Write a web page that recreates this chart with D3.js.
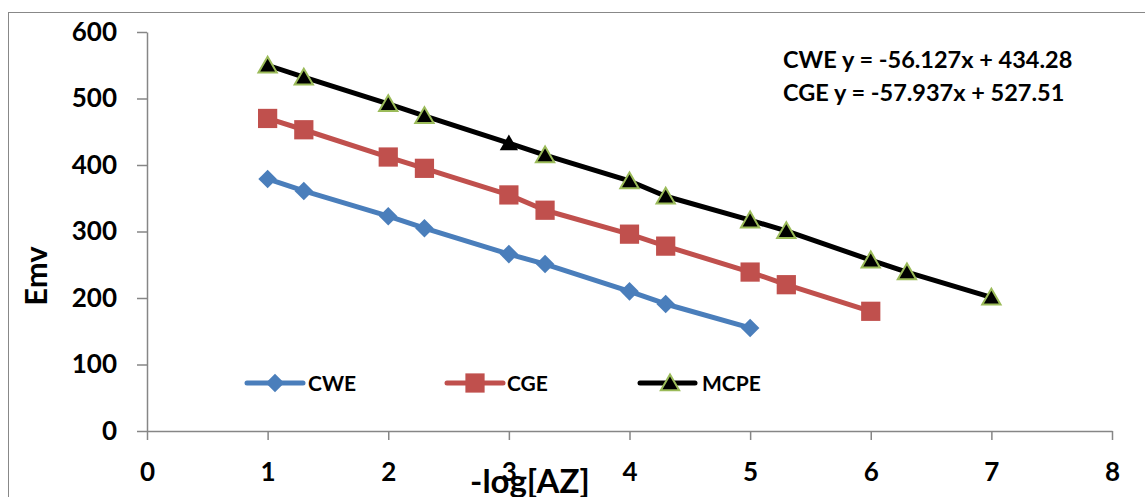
<!DOCTYPE html>
<html><head><meta charset="utf-8">
<script src="https://cdn.jsdelivr.net/npm/d3@7"></script>
<style>body{margin:0;background:#fff}svg{display:block}text{font-family:Lato,"Open Sans",sans-serif;font-weight:bold}</style>
</head><body><svg id="c" width="1145" height="497"></svg>
<script>
const xTicks=[0,1,2,3,4,5,6,7,8];
const yTicks=[0,100,200,300,400,500,600];
const cweX=[1,1.3,2,2.3,3,3.3,4,4.3,5];
const cweY=[379,361,323,305,266,251,210,191,155];
const cgeX=[1,1.3,2,2.3,3,3.3,4,4.3,5,5.3,6];
const cgeY=[470,453,412,395,355,332,296,278,239,220,180];
const mcpeX=[1,1.3,2,2.3,3,3.3,4,4.3,5,5.3,6,6.3,7];
const mcpeY=[550,532,492,474,433,415,376,353,317,301,257,239,201];
const seriesNames=["CWE","CGE","MCPE"];
const equations=["CWE y = -56.127x + 434.28","CGE y = -57.937x + 527.51"];

const svg=d3.select("#c");
svg.append("rect").attr("x",8.5).attr("y",12.5).attr("width",1145).attr("height",600).attr("fill","none").attr("stroke","#888").attr("stroke-width",1);
const x=d3.scaleLinear().domain([0,8]).range([147,1112]);
const y=d3.scaleLinear().domain([0,600]).range([431,32]);
const gx=svg.append("g").attr("transform","translate(0,431)").call(d3.axisBottom(x).tickValues(xTicks).tickSize(9).tickPadding(23).tickSizeOuter(0));
const gy=svg.append("g").attr("transform","translate(147,0)").call(d3.axisLeft(y).tickValues(yTicks).tickSize(10).tickPadding(20).tickSizeOuter(0));
[gx,gy].forEach(g=>{g.selectAll("path,line").attr("stroke","#868686").attr("stroke-width",1.5);g.selectAll("text").attr("fill","#000").style("font-size","26px").style("font-family","Lato,sans-serif").style("font-weight","bold");});

const diamond=d3.symbol().type(d3.symbolDiamond2).size(220);
const square=d3.symbol().type(d3.symbolSquare).size(370);
const tri=d3.symbol().type(d3.symbolTriangle2).size(240);
const series=[
 {name:seriesNames[0],xs:cweX,ys:cweY,color:"#4a7ebb",sym:diamond,fill:"#4a7ebb",stroke:"#4a7ebb"},
 {name:seriesNames[1],xs:cgeX,ys:cgeY,color:"#c0504d",sym:square,fill:"#c0504d",stroke:"#c0504d"},
 {name:seriesNames[2],xs:mcpeX,ys:mcpeY,color:"#000",sym:tri,fill:"#000",stroke:"#9bbb59"}
];
const line=d3.line().x(d=>x(d[0])).y(d=>y(d[1]));
series.forEach(s=>{
  const pts=s.xs.map((v,i)=>[v,s.ys[i]]);
  svg.append("path").attr("d",line(pts)).attr("fill","none").attr("stroke",s.color).attr("stroke-width",5).attr("stroke-linejoin","round");
  svg.selectAll(null).data(pts).enter().append("path").attr("d",s.sym)
    .attr("transform",d=>`translate(${x(d[0])},${y(d[1])+(s.sym===tri?2:0)})`)
    .attr("fill",s.fill).attr("stroke",(d,i)=>s.sym===tri&&i===4?"none":s.stroke).attr("stroke-width",s.sym===tri?2:0);
});
// legend
const legX=[247,447,640];
const legW=[56,56,55];
const legT=[308,507,702];
series.forEach((s,i)=>{
  const g=svg.append("g").attr("transform",`translate(${legX[i]},383)`);
  g.append("line").attr("x1",0).attr("x2",legW[i]).attr("stroke",s.color).attr("stroke-width",5).attr("stroke-linecap","round");
  g.append("path").attr("d",s.sym).attr("transform",`translate(${i===2?30:28},${i===2?2:0})`).attr("fill",s.fill).attr("stroke",s.stroke).attr("stroke-width",i===2?2:0);
  g.append("text").attr("x",legT[i]-legX[i]).attr("y",8).style("font-size","21px").text(s.name);
});
svg.selectAll(".eq").data(equations).enter().append("text").attr("x",783).attr("y",(d,i)=>68+i*33).style("font-size","23.5px").text(d=>d);
svg.append("text").attr("x",530).attr("y",493).attr("text-anchor","middle").style("font-size","33px").text("-log[AZ]");
svg.append("text").attr("transform","translate(47,276) rotate(-90)").attr("text-anchor","middle").style("font-size","31px").text("Emv");
</script></body></html>
